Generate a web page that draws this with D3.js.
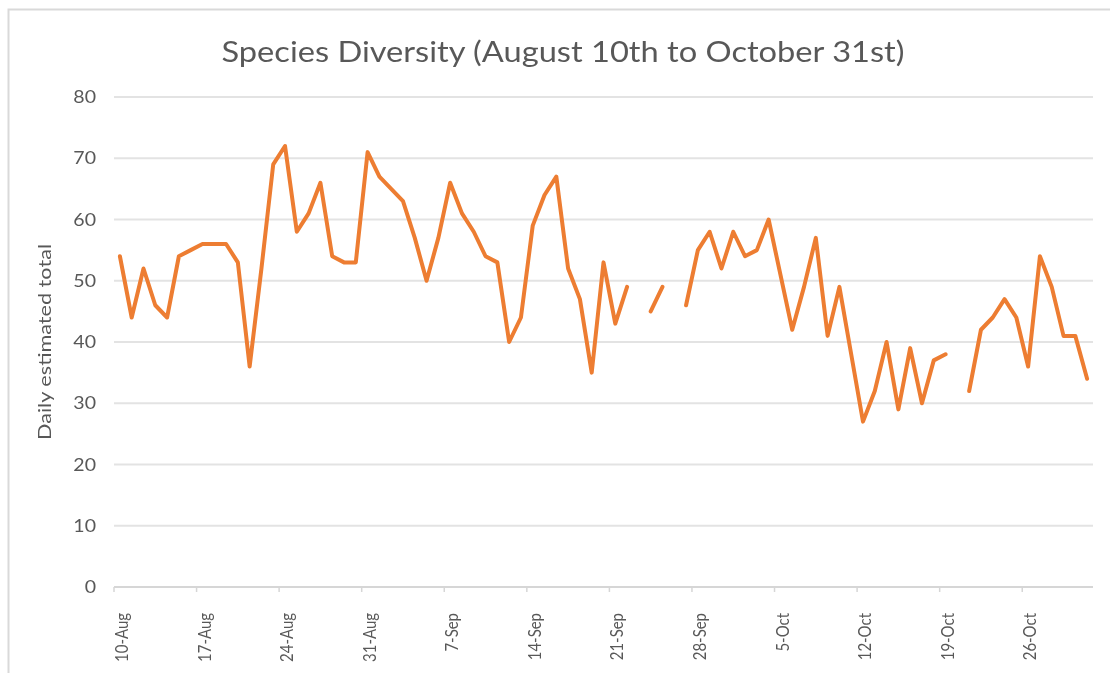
<!DOCTYPE html>
<html>
<head>
<meta charset="utf-8">
<script src="https://cdn.jsdelivr.net/npm/d3@7"></script>
<style>
  html, body { margin: 0; padding: 0; background: #fff; }
  svg { display: block; }
  text { font-family: Lato, "Open Sans", "Liberation Sans", sans-serif; fill: #595959; }
</style>
</head>
<body>
<script>
// Daily species counts, 10 Aug – 31 Oct (null = no survey that day)
const startDate = "2023-08-10";
const endDate = "2023-11-01";
const dailyTotals = [
  54, 44, 52, 46, 44, 54, 55, 56, 56, 56,
  53, 36, 52, 69, 72, 58, 61, 66, 54, 53,
  53, 71, 67, 65, 63, 57, 50, 57, 66, 61,
  58, 54, 53, 40, 44, 59, 64, 67, 52, 47,
  35, 53, 43, 49, null, 45, 49, null, 46, 55,
  58, 52, 58, 54, 55, 60, 51, 42, 49, 57,
  41, 49, 38, 27, 32, 40, 29, 39, 30, 37,
  38, null, 32, 42, 44, 47, 44, 36, 54, 49,
  41, 41, 34
];
const weekTickLabels = ["10-Aug", "17-Aug", "24-Aug", "31-Aug", "7-Sep", "14-Sep",
  "21-Sep", "28-Sep", "5-Oct", "12-Oct", "19-Oct", "26-Oct"];
const yTicks = [0, 10, 20, 30, 40, 50, 60, 70, 80];
const chartTitle = "Species Diversity (August 10th to October 31st)";
const yTitle = "Daily estimated total";

const W = 1110, H = 673;
const parse = d3.utcParse("%Y-%m-%d");
const days = d3.utcDay.range(parse(startDate), parse(endDate));
const data = days.map((d, i) => ({ date: d, v: dailyTotals[i] }));

const svg = d3.select("body").append("svg")
  .attr("width", W).attr("height", H);

const defs = svg.append("defs");
defs.append("filter").attr("id", "soft")
  .append("feGaussianBlur").attr("stdDeviation", 0.65);

const root = svg.append("g").attr("filter", "url(#soft)");

// chart frame
root.append("rect").attr("x", 0).attr("y", 0).attr("width", W).attr("height", H).attr("fill", "#fff");
root.append("path")
  .attr("d", `M8.5,${H} V9.5 H${W}`)
  .attr("fill", "none").attr("stroke", "#d9d9d9").attr("stroke-width", 2);

const x = d3.scaleUtc()
  .domain([parse(startDate), parse(endDate)])
  .range([114, 1093]);
const halfDay = 12 * 3600 * 1000;
const y = d3.scaleLinear().domain([0, 80]).range([587, 97]);

// horizontal gridlines
root.append("g").selectAll("line")
  .data(yTicks.filter(t => t > 0))
  .join("line")
  .attr("x1", x.range()[0]).attr("x2", x.range()[1])
  .attr("y1", d => y(d)).attr("y2", d => y(d))
  .attr("stroke", "#e3e3e3").attr("stroke-width", 2);

// y tick labels
root.append("g").selectAll("text")
  .data(yTicks)
  .join("text")
  .attr("transform", d => `translate(96,${y(d)}) scale(1.15,1)`)
  .attr("dy", "0.36em")
  .attr("text-anchor", "end")
  .attr("font-size", 17)
  .text(d => d);

// x axis line and weekly ticks
const tickDates = weekTickLabels.map((_, i) => d3.utcDay.offset(parse(startDate), i * 7));
root.append("line")
  .attr("x1", x.range()[0]).attr("x2", x.range()[1])
  .attr("y1", y(0)).attr("y2", y(0))
  .attr("stroke", "#d6d6d6").attr("stroke-width", 2);
root.append("g").selectAll("line")
  .data(tickDates)
  .join("line")
  .attr("x1", d => x(d)).attr("x2", d => x(d))
  .attr("y1", y(0)).attr("y2", y(0) + 5)
  .attr("stroke", "#d6d6d6").attr("stroke-width", 1.5);

// rotated date labels, centred on their day
root.append("g").selectAll("text")
  .data(tickDates)
  .join("text")
  .attr("transform", d => `translate(${x(new Date(+d + halfDay)) + 2},${y(0) + 26}) rotate(-90) scale(0.88,1)`)
  .attr("dy", "0.36em")
  .attr("text-anchor", "end")
  .attr("font-size", 17)
  .text((d, i) => weekTickLabels[i]);

// y axis title
root.append("text")
  .attr("transform", `translate(45,342) rotate(-90)`)
  .attr("dy", "0.36em")
  .attr("text-anchor", "middle")
  .attr("font-size", 17)
  .attr("textLength", 196)
  .attr("lengthAdjust", "spacingAndGlyphs")
  .text(yTitle);

// title
root.append("text")
  .attr("x", 563).attr("y", 62)
  .attr("text-anchor", "middle")
  .attr("font-size", 28)
  .attr("textLength", 683)
  .attr("lengthAdjust", "spacingAndGlyphs")
  .text(chartTitle);

// the series line, broken where no count exists
const line = d3.line()
  .defined(d => d.v != null)
  .x(d => x(new Date(+d.date + halfDay)))
  .y(d => y(d.v));

root.append("path")
  .datum(data)
  .attr("d", line)
  .attr("fill", "none")
  .attr("stroke", "#ED7D31")
  .attr("stroke-width", 4)
  .attr("stroke-linejoin", "round")
  .attr("stroke-linecap", "round");
</script>
</body>
</html>
